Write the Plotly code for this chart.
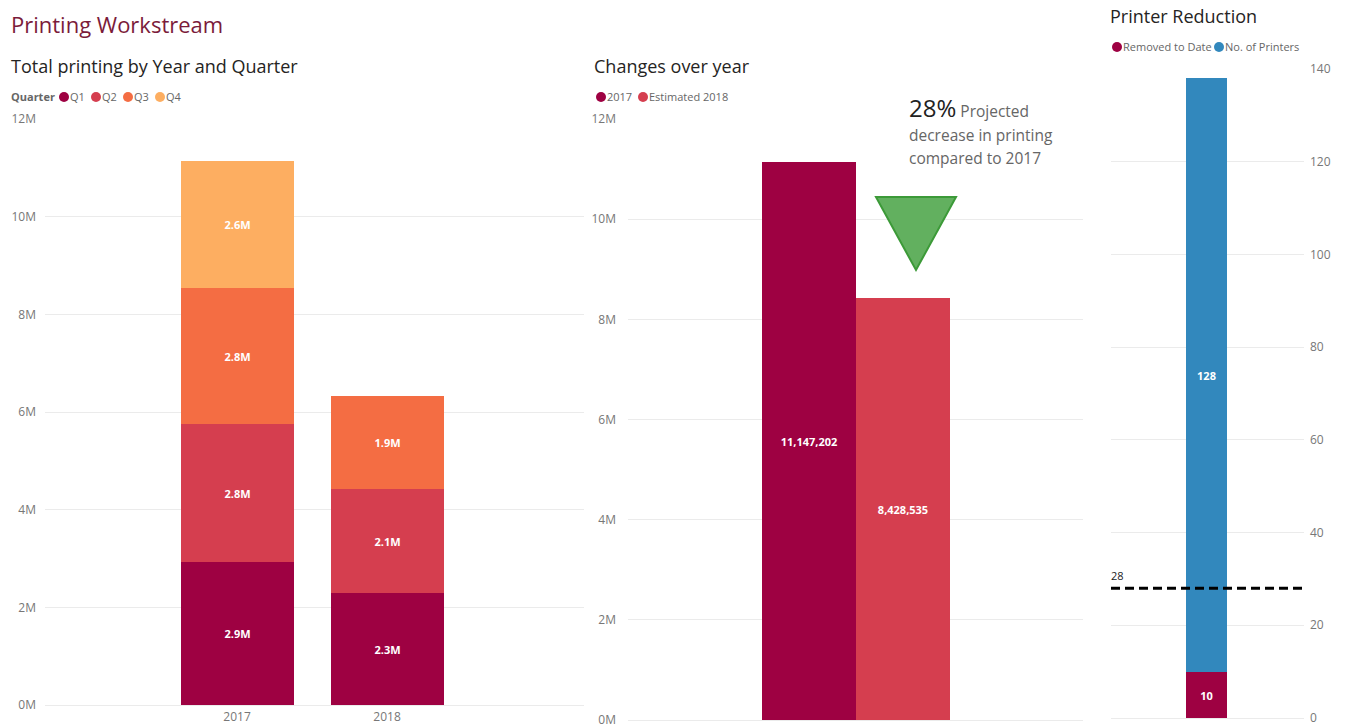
import plotly.graph_objects as go

# ---- data ----
years = ["2017", "2018"]
quarters = ["Q1", "Q2", "Q3", "Q4"]
quarter_values = {
    "Q1": [2930000, 2290000],
    "Q2": [2830000, 2130000],
    "Q3": [2780000, 1910000],
    "Q4": [2607202, None],
}
quarter_colors = {"Q1": "#9e0142", "Q2": "#d53e4f", "Q3": "#f46d43", "Q4": "#fdae61"}

change_series = ["2017", "Estimated 2018"]
change_values = [11147202, 8428535]
change_colors = ["#9e0142", "#d53e4f"]
projected_decrease = "28%"

printer_series = ["Removed to Date", "No. of Printers"]
printer_values = [10, 128]
printer_colors = ["#9e0142", "#3288bd"]
printer_target = 28

money_ticks = [0, 2e6, 4e6, 6e6, 8e6, 10e6, 12e6]
money_tick_text = ["0M", "2M", "4M", "6M", "8M", "10M", "12M"]
printer_ticks = [0, 20, 40, 60, 80, 100, 120, 140]

W, H = 1345, 727
FONT = "Segoe UI, Open Sans, sans-serif"
GRID = "#ebebeb"
TICK = "#777777"


def px(x):
    return x / W


def py(y):
    return 1 - y / H


fig = go.Figure()

# ---- total printing, stacked by quarter ----
for q in quarters:
    fig.add_trace(go.Bar(
        x=years, y=quarter_values[q], name=q, width=0.753,
        marker=dict(color=quarter_colors[q], line=dict(width=0)),
        texttemplate="%{y:.2s}", textposition="inside", insidetextanchor="middle",
        textangle=0, textfont=dict(color="white", size=11, family=FONT, weight="bold"),
        xaxis="x", yaxis="y", showlegend=False, hoverinfo="skip",
    ))

# ---- changes over year ----
for name, val, col in zip(change_series, change_values, change_colors):
    fig.add_trace(go.Bar(
        x=[name], y=[val], name=name, width=1.0,
        marker=dict(color=col, line=dict(width=0)),
        texttemplate="%{y:,}", textposition="inside", insidetextanchor="middle",
        textangle=0, textfont=dict(color="white", size=11, family=FONT, weight="bold"),
        xaxis="x2", yaxis="y2", showlegend=False, hoverinfo="skip",
    ))

# ---- printer reduction ----
for name, val, col in zip(printer_series, printer_values, printer_colors):
    fig.add_trace(go.Bar(
        x=["Printers"], y=[val], name=name, width=0.41,
        marker=dict(color=col, line=dict(width=0)),
        texttemplate="%{y}", textposition="inside", insidetextanchor="middle",
        textangle=0, textfont=dict(color="white", size=11, family=FONT, weight="bold"),
        xaxis="x3", yaxis="y3", showlegend=False, hoverinfo="skip",
    ))

common_y = dict(showgrid=True, gridcolor=GRID, gridwidth=1, zeroline=True,
                zerolinecolor=GRID, zerolinewidth=1, showline=False, ticks="",
                automargin=False, ticklabeloverflow="allow",
                tickfont=dict(size=12, color=TICK, family=FONT), fixedrange=True)
common_x = dict(showgrid=False, zeroline=False, showline=False, ticks="",
                automargin=False, fixedrange=True)

fig.update_layout(
    width=W, height=H, margin=dict(l=0, r=0, t=0, b=0, autoexpand=False),
    paper_bgcolor="white", plot_bgcolor="white",
    barmode="relative", bargap=0,
    font=dict(family=FONT),
    xaxis=dict(domain=[px(45), px(584)], range=[-1.28, 2.313], anchor="y",
               type="category", tickfont=dict(size=12, color=TICK, family=FONT),
               ticklabelstandoff=3, ticklabeloverflow="allow", **common_x),
    yaxis=dict(domain=[py(705), py(119)], range=[0, 12e6], anchor="x",
               tickvals=money_ticks, ticktext=money_tick_text,
               ticklabelstandoff=8, **common_y),
    xaxis2=dict(domain=[px(628), px(1083)], range=[-1.926, 2.915], anchor="y2",
                type="category", showticklabels=False, **common_x),
    yaxis2=dict(domain=[py(720), py(119)], range=[0, 12e6], anchor="x2",
                tickvals=money_ticks, ticktext=money_tick_text,
                ticklabelstandoff=11, **common_y),
    xaxis3=dict(domain=[px(1111), px(1304)], range=[-0.955, 0.975], anchor="y3",
                type="category", showticklabels=False, **common_x),
    yaxis3=dict(domain=[py(718), py(69)], range=[0, 140], anchor="x3", side="right",
                tickvals=printer_ticks, ticklabelstandoff=5, **common_y),
)

# target line for printers
fig.add_shape(type="line", xref="x3 domain", yref="y3", x0=0, x1=1,
              y0=printer_target, y1=printer_target,
              line=dict(color="black", width=3, dash="9px,5px"))
fig.add_annotation(xref="x3 domain", yref="y3", x=0, y=printer_target,
                   text=str(printer_target), showarrow=False, xanchor="left",
                   yanchor="bottom", yshift=3, xshift=-2,
                   font=dict(size=11, color="#222", family=FONT))

# down-pointing indicator
tri = [(876, 197), (956, 197), (916, 270)]
path = "M {} {} L {} {} L {} {} Z".format(*[v for p in tri for v in (px(p[0]), py(p[1]))])
fig.add_shape(type="path", xref="paper", yref="paper", path=path,
              fillcolor="#62b05f", line=dict(color="#3c9a38", width=2))


def text(x, y, s, size, color, anchor="left"):
    fig.add_annotation(xref="paper", yref="paper", x=px(x), y=py(y), text=s,
                       showarrow=False, xanchor=anchor, yanchor="middle",
                       font=dict(size=size, color=color, family=FONT))


# titles
text(9, 24, "Printing Workstream", 22, "#7b1b3a")
text(9, 66, "Total printing by Year and Quarter", 18, "#252423")
text(592, 66, "Changes over year", 18, "#252423")
text(1108, 16, "Printer Reduction", 18, "#252423")

# KPI text
text(907, 108, "<span style='font-size:24px;color:#222'>" + projected_decrease
     + "</span> Projected", 15.5, "#666")
text(907, 135, "decrease in printing", 15.5, "#666")
text(907, 158, "compared to 2017", 15.5, "#666")


def dot_legend(y, items, title=None, title_x=None):
    """items: list of (dot centre x, label, colour)"""
    if title:
        text(title_x, y, "<b>" + title + "</b>", 11, "#666")
    for cx, label, col in items:
        fig.add_shape(type="circle", xref="paper", yref="paper",
                      x0=px(cx - 5), x1=px(cx + 5), y0=py(y + 5), y1=py(y - 5),
                      fillcolor=col, line=dict(width=0))
        text(cx + 4, y, label, 11, "#666")


dot_legend(97, [(64, "Q1", quarter_colors["Q1"]), (96, "Q2", quarter_colors["Q2"]),
                (128, "Q3", quarter_colors["Q3"]), (160, "Q4", quarter_colors["Q4"])],
           title="Quarter", title_x=9)
dot_legend(97, [(601, change_series[0], change_colors[0]),
                (643, change_series[1], change_colors[1])])
dot_legend(47, [(1117, printer_series[0], printer_colors[0]),
                (1219, printer_series[1], printer_colors[1])])

fig.write_html("out.html", config={"displayModeBar": False})
